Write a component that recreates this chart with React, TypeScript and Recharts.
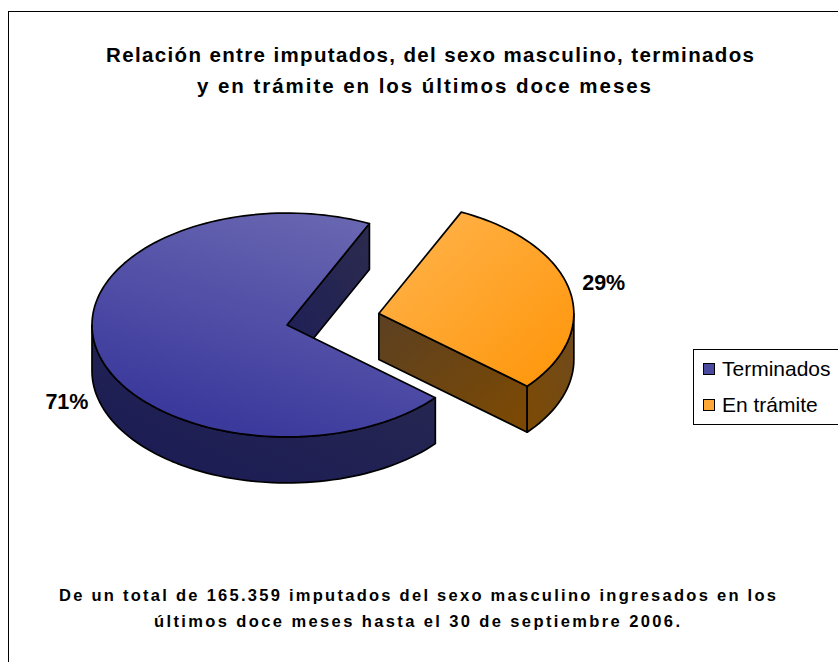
import React from 'react';
import { PieChart, Pie, Legend } from 'recharts';

const categories = ['Terminados', 'En trámite'];
const shares = [70.7, 29.3];
const explodeFractions = [0, 0.482];

const topGradients = ['topBlue', 'topOrange'];
const rimGradients = ['rimBlue', 'rimOrange'];
const faceGradients = ['faceBlue', 'faceOrange'];
const legendColors = ['#4a4a9e', '#ffa838'];

const titleLines = [
  'Relación entre imputados, del sexo masculino, terminados',
  'y en trámite en los últimos doce meses',
];
const noteLines = [
  'De un total de 165.359 imputados del sexo masculino ingresados en los',
  'últimos doce meses hasta el 30 de septiembre 2006.',
];

const chartData = categories.map((name, i) => ({
  name,
  value: shares[i],
  explode: explodeFractions[i],
  top: topGradients[i],
  rim: rimGradients[i],
  face: faceGradients[i],
}));

const FONT = '"Liberation Sans", Arial, sans-serif';
const TILT = 0.574;
const DEPTH = 46;
const RAD = Math.PI / 180;

// flat pie angles projected on to the tilted ellipse
const project = (cx: number, cy: number, r: number, deg: number, drop = 0) => ({
  x: cx + r * Math.cos(deg * RAD),
  y: cy - r * TILT * Math.sin(deg * RAD) + drop,
});

const arcPath = (cx: number, cy: number, r: number, from: number, to: number, drop = 0) => {
  const pts = [];
  const steps = Math.max(2, Math.ceil(Math.abs(to - from) / 2));
  for (let i = 0; i <= steps; i++) {
    const p = project(cx, cy, r, from + ((to - from) * i) / steps, drop);
    pts.push(`${p.x.toFixed(2)} ${p.y.toFixed(2)}`);
  }
  return pts;
};

const explodedCentre = (props: any) => {
  const { cx, cy, outerRadius, midAngle, payload } = props;
  const off = project(0, 0, outerRadius * (payload?.explode ?? 0), midAngle);
  return { x: cx + off.x, y: cy + off.y };
};

const Slice3D = (props: any) => {
  const { outerRadius: r, startAngle, endAngle, payload } = props;
  const { x: cx, y: cy } = explodedCentre(props);
  const a = Math.min(startAngle, endAngle);
  const b = Math.max(startAngle, endAngle);
  const line = { stroke: '#000', strokeWidth: 1.7, strokeLinejoin: 'round' as const };

  const faces = [a, b]
    .filter((deg, i) => (i === 0 ? Math.cos(deg * RAD) > 0 : Math.cos(deg * RAD) < 0))
    .map((deg) => {
      const p = project(cx, cy, r, deg);
      return `M${cx} ${cy}L${p.x} ${p.y}L${p.x} ${p.y + DEPTH}L${cx} ${cy + DEPTH}Z`;
    });

  // front of the rim is where the angle falls in 180..360 (or 540..720)
  const rims: string[] = [];
  for (const [lo, hi] of [[180, 360], [540, 720], [-180, 0]]) {
    const from = Math.max(a, lo);
    const to = Math.min(b, hi);
    if (to > from) {
      const front = arcPath(cx, cy, r, from, to);
      const back = arcPath(cx, cy, r, to, from, DEPTH);
      rims.push(`M${front.join('L')}L${back.join('L')}Z`);
    }
  }

  const top = `M${cx} ${cy}L${arcPath(cx, cy, r, a, b).join('L')}Z`;

  return (
    <g>
      {faces.map((d, i) => (
        <path key={`face-${i}`} d={d} fill={`url(#${payload.face})`} {...line} />
      ))}
      {rims.map((d, i) => (
        <path key={`rim-${i}`} d={d} fill={`url(#${payload.rim})`} {...line} />
      ))}
      <path d={top} fill={`url(#${payload.top})`} {...line} />
    </g>
  );
};

const renderPercent = (props: any) => {
  const { outerRadius, midAngle, percent } = props;
  const c = explodedCentre({ ...props, payload: props.payload ?? props });
  const front = Math.sin(midAngle * RAD) < 0;
  const x = c.x + outerRadius * (front ? 1.155 : 1.18) * Math.cos(midAngle * RAD);
  const y = c.y - outerRadius * 1.3 * TILT * Math.sin(midAngle * RAD) + (front ? DEPTH : 0);
  return (
    <text x={x} y={y} textAnchor="middle" dominantBaseline="central" fontFamily={FONT} fontSize={21.5} fontWeight={700} fill="#000">
      {`${Math.round(percent * 100)}%`}
    </text>
  );
};

const LegendBox = () => (
  <div
    style={{
      width: 145,
      height: 76,
      boxSizing: 'border-box',
      border: '1px solid #000',
      borderRight: 'none',
      background: '#fff',
      fontFamily: FONT,
      fontSize: 21,
      color: '#000',
      paddingLeft: 9,
    }}
  >
    {categories.map((name, i) => (
      <div key={name} style={{ display: 'flex', alignItems: 'center', height: 36, marginTop: i === 0 ? 1 : 0 }}>
        <span style={{ width: 10, height: 10, background: legendColors[i], border: '1.5px solid #000', marginRight: 7 }} />
        {name}
      </div>
    ))}
  </div>
);

export default function App() {
  return (
    <div style={{ position: 'fixed', left: 0, top: 0, width: 838, height: 662, overflow: 'hidden', background: '#fff' }}>
      <div style={{ position: 'absolute', left: 8, top: 11, width: 840, height: 660, borderLeft: '1.5px solid #000', borderTop: '1.5px solid #000' }} />
      <PieChart width={838} height={662} margin={{ top: 0, right: 0, bottom: 0, left: 0 }} style={{ position: 'absolute', left: 0, top: 0 }}>
        <defs>
          <linearGradient id="topBlue" x1="0.8" y1="0" x2="0.35" y2="1">
            <stop offset="0" stopColor="#6b68b2" />
            <stop offset="1" stopColor="#38379b" />
          </linearGradient>
          <linearGradient id="topOrange" x1="0" y1="0" x2="1" y2="1">
            <stop offset="0" stopColor="#ffb550" />
            <stop offset="1" stopColor="#ff9508" />
          </linearGradient>
          <linearGradient id="rimBlue" x1="0" y1="1" x2="1" y2="0">
            <stop offset="0" stopColor="#191a55" />
            <stop offset="1" stopColor="#2a2a50" />
          </linearGradient>
          <linearGradient id="rimOrange" x1="0" y1="1" x2="1" y2="0">
            <stop offset="0" stopColor="#7c4a04" />
            <stop offset="1" stopColor="#6f4a1e" />
          </linearGradient>
          <linearGradient id="faceBlue" x1="1" y1="0" x2="0" y2="1">
            <stop offset="0" stopColor="#2b2b4e" />
            <stop offset="1" stopColor="#1e1e58" />
          </linearGradient>
          <linearGradient id="faceOrange" x1="0" y1="0" x2="1" y2="1">
            <stop offset="0" stopColor="#5b4022" />
            <stop offset="1" stopColor="#7e4a02" />
          </linearGradient>
        </defs>
        <Pie
          data={chartData}
          dataKey="value"
          nameKey="name"
          cx={287}
          cy={325}
          innerRadius={0}
          outerRadius={195}
          startAngle={65}
          endAngle={425}
          stroke="none"
          shape={Slice3D}
          label={renderPercent}
          labelLine={false}
          isAnimationActive={false}
        />
        <Legend
          layout="vertical"
          content={() => <LegendBox />}
          wrapperStyle={{ position: 'absolute', left: 693, top: 349, width: 145, height: 76 }}
        />
        <g fontFamily={FONT} fontWeight={700} fill="#000" textAnchor="middle">
          <text x={430} y={62} fontSize={20.5} textLength={648} lengthAdjust="spacing">{titleLines[0]}</text>
          <text x={424} y={93} fontSize={20.5} textLength={454} lengthAdjust="spacing">{titleLines[1]}</text>
          <text x={417.5} y={601} fontSize={16.5} textLength={717} lengthAdjust="spacing">{noteLines[0]}</text>
          <text x={417} y={627} fontSize={16.5} textLength={526} lengthAdjust="spacing">{noteLines[1]}</text>
        </g>
      </PieChart>
    </div>
  );
}
